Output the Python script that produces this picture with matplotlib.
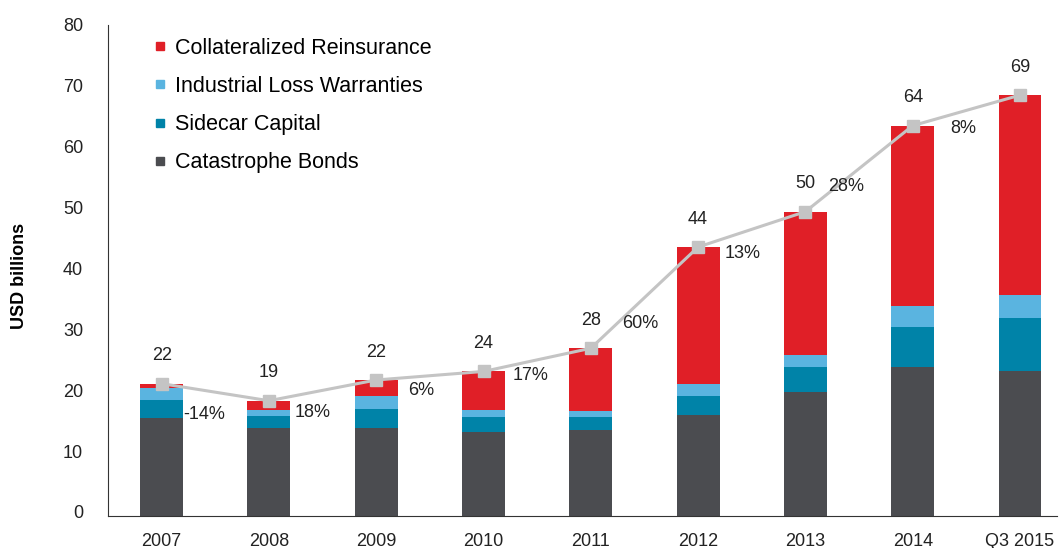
import numpy as np
import matplotlib.pyplot as plt
from matplotlib.lines import Line2D
from matplotlib.transforms import ScaledTranslation

plt.rcParams['font.family'] = ['Liberation Sans', 'DejaVu Sans']

years = ['2007', '2008', '2009', '2010', '2011', '2012', '2013', '2014', 'Q3 2015']

# USD billions
cat_bonds = [16.0, 14.4, 14.5, 13.8, 14.1, 16.6, 20.4, 24.4, 23.8]
sidecar = [3.1, 2.0, 3.0, 2.5, 2.2, 3.1, 4.1, 6.6, 8.6]
ilw = [1.9, 0.9, 2.2, 1.0, 0.9, 1.9, 1.9, 3.5, 3.8]
coll_re = [0.7, 1.6, 2.6, 6.4, 10.3, 22.5, 23.5, 29.5, 32.8]

total_labels = ['22', '19', '22', '24', '28', '44', '50', '64', '69']
growth_labels = ['-14%', '18%', '6%', '17%', '60%', '13%', '28%', '8%']
growth_y = [16.6, 17.0, 20.5, 23.1, 31.6, 43.1, 54.1, 63.6]  # where the labels sit

c_dark = '#4b4c50'
c_teal = '#0083a8'
c_lblue = '#5ab4e0'
c_red = '#e01f27'
c_line = '#c4c4c4'

x = np.arange(len(years))
w = 0.4

fig = plt.figure(figsize=(10.61, 5.48), dpi=100)
ax = fig.add_axes([108/1061, 1 - 516/548, 949/1061, 491/548])

b1 = np.array(cat_bonds)
b2 = b1 + np.array(sidecar)
b3 = b2 + np.array(ilw)
tot = b3 + np.array(coll_re)

ax.bar(x, cat_bonds, w, color=c_dark)
ax.bar(x, sidecar, w, bottom=b1, color=c_teal)
ax.bar(x, ilw, w, bottom=b2, color=c_lblue)
ax.bar(x, coll_re, w, bottom=b3, color=c_red)

ax.plot(x, tot, color=c_line, lw=2.2, marker='s', ms=9, mfc=c_line, mec=c_line, zorder=3)

for i in range(len(years)):
    ax.annotate(total_labels[i], (x[i], tot[i]), xytext=(0, 20), textcoords='offset points',
                ha='center', va='center', fontsize=13, color='#222222')

offs = [0.2, 0.24, 0.3, 0.27, 0.29, 0.25, 0.21, 0.35]
for i in range(len(growth_labels)):
    ax.text(x[i] + offs[i], growth_y[i], growth_labels[i], ha='left', va='center',
            fontsize=13, color='#222222')

ax.set_xlim(-0.5, 8.345)
ax.set_ylim(0, 80.5)
ax.set_yticks(range(0, 81, 10))
ax.set_xticks(x)
ax.set_xticklabels(years)
ax.tick_params(axis='both', length=0, labelsize=13, colors='#222222')
ax.tick_params(axis='y', pad=18)
ax.tick_params(axis='x', pad=12)
# the y labels sit a little above their gridline in the original
for lab in ax.get_yticklabels():
    lab.set_transform(lab.get_transform() + ScaledTranslation(0, 4/100, fig.dpi_scale_trans))

for s in ['top', 'right']:
    ax.spines[s].set_visible(False)
ax.spines['left'].set_color('#333333')
ax.spines['bottom'].set_color('#333333')

ax.set_ylabel('USD billions', fontsize=13, fontweight='bold')
ax.yaxis.set_label_coords(-0.0846, 0.489)

handles = [
    Line2D([], [], ls='', marker='s', ms=6, color=c_red),
    Line2D([], [], ls='', marker='s', ms=6, color=c_lblue),
    Line2D([], [], ls='', marker='s', ms=6, color=c_teal),
    Line2D([], [], ls='', marker='s', ms=6, color=c_dark),
]
names = ['Collateralized Reinsurance', 'Industrial Loss Warranties', 'Sidecar Capital', 'Catastrophe Bonds']
ax.legend(handles, names, loc='upper left', bbox_to_anchor=(143/1061, 1 - 27/548),
          bbox_transform=fig.transFigure, frameon=False, fontsize=15.5,
          handlelength=0.55, handletextpad=0.45, labelspacing=0.8, borderpad=0)

fig.savefig('out.png', dpi=100)
